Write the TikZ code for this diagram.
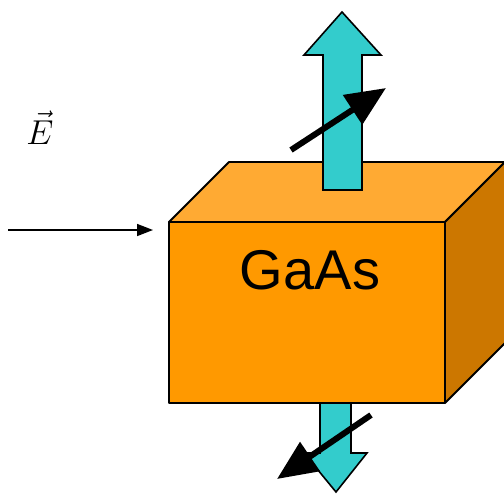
\documentclass[tikz,border=0pt]{standalone}
\usepackage{fontspec}
\setsansfont{Liberation Sans}
\usetikzlibrary{arrows.meta}
\definecolor{front}{RGB}{255,153,0}
\definecolor{topside}{RGB}{255,170,51}
\definecolor{rightside}{RGB}{204,119,0}
\definecolor{beam}{RGB}{51,204,204}
\begin{document}
\begin{tikzpicture}[x=0.5pt,y=-0.5pt]
\tikzset{facet/.style={draw=black,line width=0.9pt,line join=round},
  beamarr/.style={draw=black,fill=beam,line width=0.8pt,line join=miter},
  spin/.style={line width=3pt,-{Triangle[length=20pt,width=17pt]}},
  fieldarr/.style={line width=0.8pt,-{Triangle[length=8pt,width=6pt]}}}
\useasboundingbox (0,0) rectangle (504,494);
\clip (0,0) rectangle (504,494);
% outgoing beam below
\draw[beamarr] (320,403) -- (320,453) -- (304,453) -- (336,492) -- (367,453) -- (351,453) -- (351,403) -- cycle;
% crystal
\draw[facet,fill=topside] (169,222) -- (229,162) -- (505,162) -- (445,222) -- cycle;
\draw[facet,fill=rightside] (445,222) -- (505,162) -- (505,343) -- (445,403) -- cycle;
\draw[facet,fill=front] (169,222) rectangle (445,403);
\node[font=\sffamily\fontsize{28}{28}\selectfont] (gaas) at (310,270) {GaAs};
% outgoing beam above
\draw[beamarr] (323,190) -- (323,55) -- (304,55) -- (342,12) -- (381,55) -- (362,55) -- (362,190) -- cycle;
% spins
\coordinate (up0) at (291,150);
\coordinate (up1) at (386,88);
\draw[spin] (up0) -- (up1);
\coordinate (dn0) at (371,415);
\coordinate (dn1) at (277,479);
\draw[spin] (dn0) -- (dn1);
% incident field
\node[font=\fontsize{18}{18}\selectfont] (field) at (40,128) {$\vec{E}$};
\coordinate (src) at (8,230);
\coordinate (hit) at (153,230);
\draw[fieldarr] (src) -- (hit);
\end{tikzpicture}
\end{document}
